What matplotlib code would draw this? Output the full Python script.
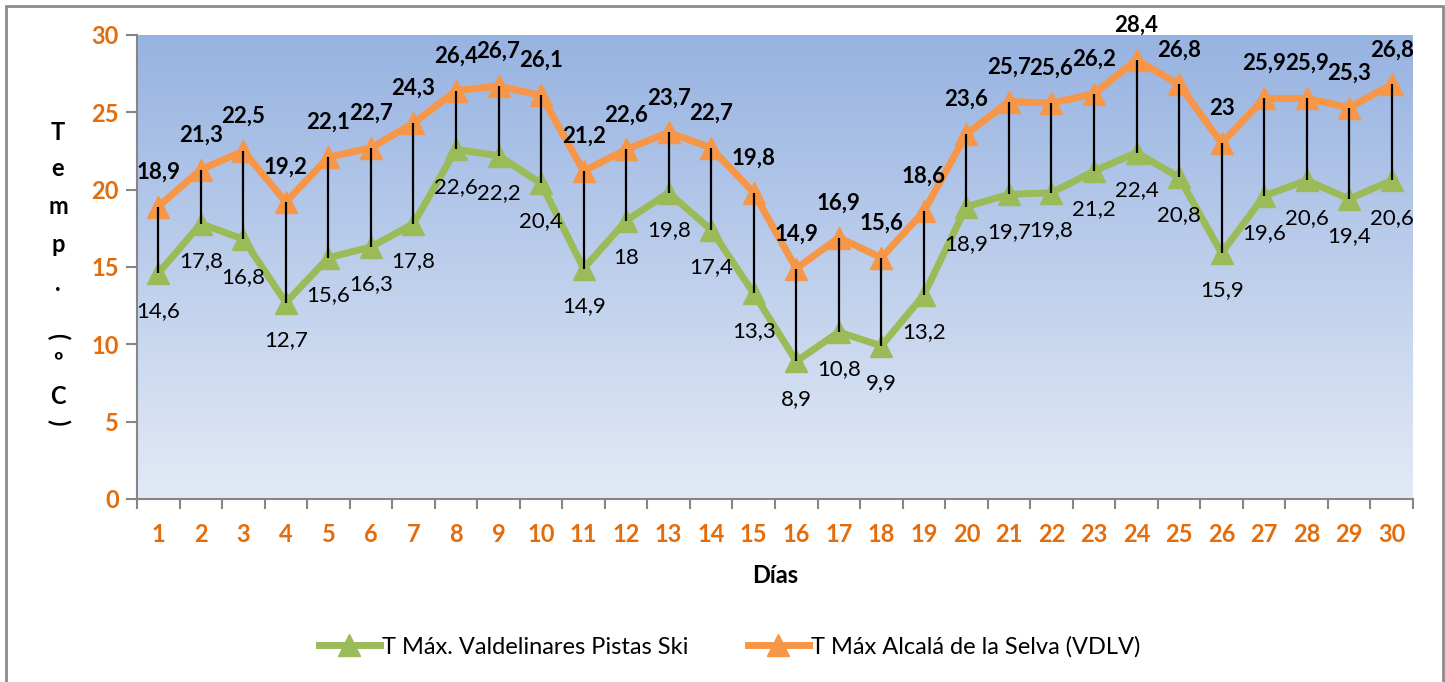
"""
plot.py: Daily max temperature, Valdelinares vs Alcalá de la Selva
"""
import matplotlib
matplotlib.use("Agg")
import matplotlib.pyplot as plt
import numpy as np
from matplotlib.colors import LinearSegmentedColormap
from matplotlib.patches import Rectangle

plt.rcParams['font.family'] = ['Lato', 'DejaVu Sans']

# Data
days = list(range(1, 31))
t_alcala = [18.9, 21.3, 22.5, 19.2, 22.1, 22.7, 24.3, 26.4, 26.7, 26.1,
            21.2, 22.6, 23.7, 22.7, 19.8, 14.9, 16.9, 15.6, 18.6, 23.6,
            25.7, 25.6, 26.2, 28.4, 26.8, 23.0, 25.9, 25.9, 25.3, 26.8]
t_valdelinares = [14.6, 17.8, 16.8, 12.7, 15.6, 16.3, 17.8, 22.6, 22.2, 20.4,
                  14.9, 18.0, 19.8, 17.4, 13.3, 8.9, 10.8, 9.9, 13.2, 18.9,
                  19.7, 19.8, 21.2, 22.4, 20.8, 15.9, 19.6, 20.6, 19.4, 20.6]
label_valdelinares = "T Máx. Valdelinares Pistas Ski"
label_alcala = "T Máx Alcalá de la Selva (VDLV)"

ORANGE = "#F79646"
GREEN = "#9BBB59"
TICK = "#E46C0A"


def fmt(v):
    return f"{v:g}".replace(".", ",")


fig = plt.figure(figsize=(14.45, 6.82), dpi=100)
ax = fig.add_axes([137 / 1445, 1 - 499 / 682, (1413 - 137) / 1445, (499 - 35) / 682])

# gradient background of the plot area
cmap = LinearSegmentedColormap.from_list("bg", ["#E3EAF6", "#97B3E1"])
grad = np.linspace(0, 1, 256).reshape(-1, 1)
ax.imshow(grad, cmap=cmap, aspect="auto", origin="lower",
          extent=[0.5, 30.5, 0, 30], zorder=0)

ax.plot(days, t_valdelinares, "-^", color=GREEN, lw=5, ms=16, label=label_valdelinares, zorder=3)
ax.plot(days, t_alcala, "-^", color=ORANGE, lw=5, ms=16, label=label_alcala, zorder=3)
ax.vlines(days, t_valdelinares, t_alcala, color="black", lw=1.6, zorder=4)

for d, v in zip(days, t_alcala):
    ax.annotate(fmt(v), (d, v), xytext=(0, 25), textcoords="offset points",
                ha="center", va="center", fontsize=16, fontweight="bold", zorder=5)
for d, v in zip(days, t_valdelinares):
    ax.annotate(fmt(v), (d, v), xytext=(0, -27), textcoords="offset points",
                ha="center", va="center", fontsize=16, zorder=5)

ax.set_xlim(0.5, 30.5)
ax.set_ylim(0, 30)
ax.set_yticks(range(0, 31, 5))
ax.set_xticks(days)
ax.set_xticks(np.arange(0.5, 31, 1), minor=True)
ax.tick_params(axis="x", which="major", length=0, pad=17, labelsize=17, labelcolor=TICK)
ax.tick_params(axis="x", which="minor", length=7, width=1.5, color="#868686")
ax.tick_params(axis="y", length=8, width=1.5, color="#868686", pad=5,
               labelsize=17, labelcolor=TICK)
for lbl in ax.get_xticklabels() + ax.get_yticklabels():
    lbl.set_fontweight("bold")
for side in ["top", "right"]:
    ax.spines[side].set_visible(False)
for side in ["left", "bottom"]:
    ax.spines[side].set_color("#868686")
    ax.spines[side].set_linewidth(1.5)

ax.set_xlabel("Días", fontsize=17, fontweight="bold", labelpad=13)

# stacked y label
ychars = [("T", 132, 0), ("e", 168, 0), ("m", 207, 0), ("p", 245, 0), (".", 283, 0),
          ("(", 336, -90), ("º", 362, 0), ("C", 396, 0), (")", 422, -90)]
for ch, ypx, rot in ychars:
    fig.text(58 / 1445, 1 - ypx / 682, ch, ha="center", va="center",
             fontsize=17, fontweight="bold", rotation=rot)

fig.legend(loc="center", bbox_to_anchor=(0.505, 1 - 647 / 682), ncol=2,
           frameon=False, fontsize=17, columnspacing=2.5, handlelength=2.6,
           handletextpad=0.1)

# outer border
fig.patches.append(Rectangle((6 / 1445, -0.01), (1443 - 6) / 1445, 1 - 6 / 682 + 0.01,
                             transform=fig.transFigure, fill=False,
                             edgecolor="#8C8C8C", lw=2))

fig.savefig("out.png", dpi=100)
